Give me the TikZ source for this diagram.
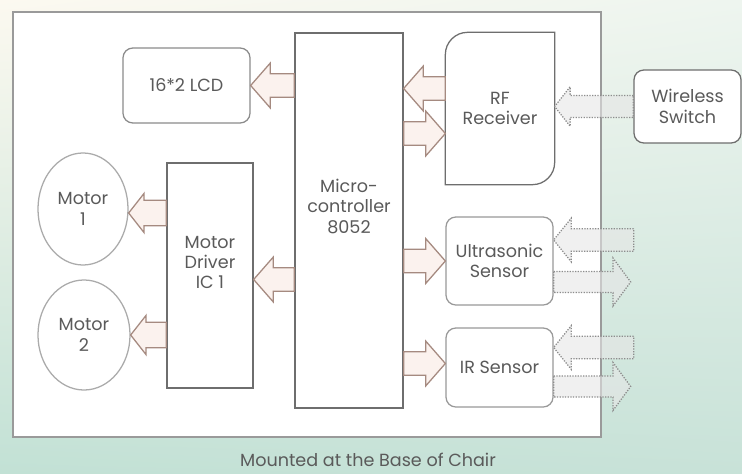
\documentclass[tikz,border=0pt]{standalone}
\usepackage{fontspec}
\setmainfont{Poppins}
\usepackage{tikz}
\usetikzlibrary{calc}
\usetikzlibrary{shapes.geometric}
\usetikzlibrary{shadings}

\definecolor{boxline}{HTML}{6E6E6E}
\definecolor{motorline}{HTML}{ABABAB}
\definecolor{frameline}{HTML}{9A9A9A}
\definecolor{arrline}{HTML}{A58A80}
\definecolor{arrfill}{HTML}{FBF2EE}
\definecolor{dotline}{HTML}{8C8C8C}
\definecolor{dotfill}{HTML}{E6E6E6}
\definecolor{txt}{HTML}{5A5A5A}
\definecolor{bgcream}{HTML}{FCF9F0}
\definecolor{bgtop}{HTML}{EEF5EF}
\definecolor{bgteal}{HTML}{C2E1D5}
\definecolor{bgteal2}{HTML}{C8E2D8}

% hollow block arrow: [style]{tail}{tip}{body half}{head half}{head length}
\newcommand{\fatarrow}[6][solidarr]{%
  \draw[#1] let \p1=#2, \p2=#3, \n1={ifthenelse(\x2>\x1,1,-1)} in
    (\x1,\y1+#4) -- (\x2-\n1*#6,\y1+#4) -- (\x2-\n1*#6,\y1+#5)
    -- (\x2,\y1) -- (\x2-\n1*#6,\y1-#5) -- (\x2-\n1*#6,\y1-#4)
    -- (\x1,\y1-#4) -- cycle;}

\begin{document}
\begin{tikzpicture}[x=0.025cm, y=-0.025cm,
  box/.style={draw=boxline, line width=0.9pt, fill=white, align=center, inner sep=0pt, text=txt},
  rbox/.style={box, rounded corners=7pt},
  motor/.style={box, ellipse, draw=motorline},
  solidarr/.style={draw=arrline, fill=arrfill, line width=0.9pt},
  dotarr/.style={draw=dotline, densely dotted, line width=0.9pt, fill=dotfill, fill opacity=0.6},
  font=\fontsize{12.5}{14.5}\selectfont]
\useasboundingbox (0,0) rectangle (742,473);
\shade[upper left=bgcream, upper right=bgtop, lower left=bgteal, lower right=bgteal2] (0,0) rectangle (742,473);
\draw[frameline, line width=1.2pt, fill=white] (13,12) rectangle (601,437);

\node[rbox, draw=boxline!80, minimum width=3.175cm, minimum height=1.875cm] (lcd) at (186.5,85.5) {16*2 LCD};
\node[box, minimum width=2.7cm, minimum height=9.375cm] (micro) at (349,220.5) {Micro-\\controller\\8052\\[6pt]};
\node[box, draw=none, minimum width=2.7cm, minimum height=3.775cm] (rf) at (500,108.5) {RF\\Receiver};
\draw[boxline, line width=0.9pt] (rf.south west) -- ($(rf.north west)+(0,22)$)
  .. controls ($(rf.north west)+(0,10)$) and ($(rf.north west)+(10,0)$) .. ($(rf.north west)+(22,0)$)
  -- (rf.north east) -- ($(rf.south east)+(0,-22)$)
  .. controls ($(rf.south east)+(0,-10)$) and ($(rf.south east)+(-10,0)$) .. ($(rf.south east)+(-22,0)$) -- cycle;
\node[rbox, minimum width=2.675cm, minimum height=1.825cm] (wl) at (687.5,106.5) {Wireless\\Switch};
\node[rbox, draw=boxline!70, minimum width=2.675cm, minimum height=2.2cm] (us) at (499.5,261) {Ultrasonic\\Sensor};
\node[rbox, draw=boxline!70, minimum width=2.675cm, minimum height=1.975cm] (ir) at (499.5,367.5) {IR Sensor};
\node[box, minimum width=2.15cm, minimum height=5.625cm] (drv) at (210,275.5) {Motor\\Driver\\IC 1\\[4pt]};
\node[motor, minimum width=2.25cm, minimum height=2.8cm] (m1) at (83,209) {Motor\\1};
\node[motor, minimum width=2.3cm, minimum height=2.75cm] (m2) at (84,335) {Motor\\2};

\node[text=txt] (cap) at (368,460) {Mounted at the Base of Chair};

% outputs / inputs of the controller
\fatarrow{(micro.west |- lcd)}{(lcd.east)}{8.3pt}{16pt}{14pt}
\fatarrow{($(rf.west)+(0,-20)$)}{(micro.east)}{8.3pt}{16pt}{14pt}
\fatarrow{($(micro.east |- rf)+(0,25)$)}{(rf.west)}{8.3pt}{16pt}{14pt}
\fatarrow{($(micro.west |- drv)+(0,4)$)}{(drv.east)}{8.3pt}{16pt}{14pt}
\fatarrow{(micro.east |- us)}{(us.west)}{8.3pt}{16pt}{14pt}
\fatarrow{($(micro.east |- ir)+(0,-4)$)}{(ir.west)}{8.3pt}{16pt}{14pt}
\fatarrow{($(drv.west |- m1)+(0,4)$)}{(m1.east)}{9pt}{14pt}{11pt}
\fatarrow{(drv.west |- m2)}{(m2.east)}{9pt}{14pt}{11pt}

% wireless links
\coordinate (usin) at ($(us.east)+(80,-21)$);
\coordinate (usout) at ($(us.east)+(77,21)$);
\coordinate (irin) at ($(ir.east)+(80,-20)$);
\coordinate (irout) at ($(ir.east)+(77,19)$);
\fatarrow[dotarr]{(wl.west)}{(rf.east)}{7.8pt}{14pt}{11pt}
\fatarrow[dotarr]{(usin)}{(us.east)}{8pt}{15.5pt}{12.5pt}
\fatarrow[dotarr]{($(us.east)+(0,21)$)}{(usout)}{7.5pt}{17pt}{12.5pt}
\fatarrow[dotarr]{(irin)}{(ir.east)}{8pt}{15.5pt}{12.5pt}
\fatarrow[dotarr]{($(ir.east)+(0,19)$)}{(irout)}{7.5pt}{17pt}{12.5pt}
\end{tikzpicture}
\end{document}
